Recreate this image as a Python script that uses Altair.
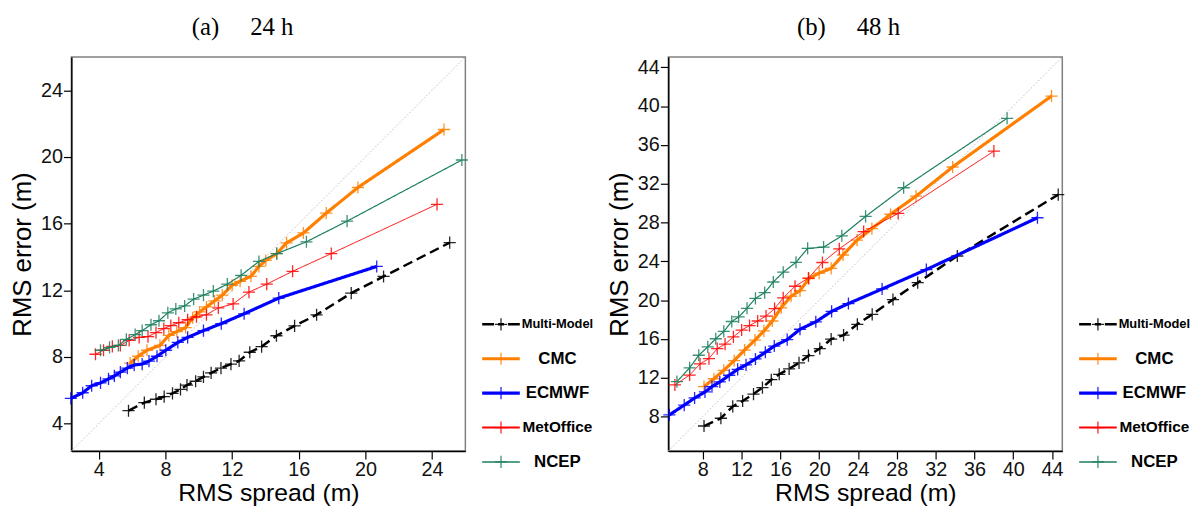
import altair as alt
import pandas as pd

MODELS = ["Multi-Model", "CMC", "ECMWF", "MetOffice", "NCEP"]
COLORS = ["#000000", "#FF8000", "#0000FF", "#FF0000", "#1B7F5F"]
LINE_W = [2.5, 3.2, 3.2, 1.0, 1.2]
LEG_W = [2.6, 3.2, 3.2, 2.2, 1.6]
DASHES = [[10, 5], [1, 0], [1, 0], [1, 0], [1, 0]]
LEG_DASHES = [[12, 4, 6, 4], [1, 0], [1, 0], [1, 0], [1, 0]]
LEG_FONT = [13, 17, 17, 15.5, 17]

# ---- panel (a) 24 h ----
a_mm_x = [5.78, 6.73, 7.43, 7.92, 8.42, 8.90, 9.29, 9.81, 10.28, 10.74, 11.33, 11.93, 12.42, 13.06, 13.77, 14.66, 15.75, 17.07, 19.15, 21.09, 25.06]
a_mm_y = [4.77, 5.26, 5.46, 5.62, 5.81, 6.05, 6.31, 6.54, 6.80, 7.04, 7.33, 7.57, 7.76, 8.28, 8.62, 9.27, 9.86, 10.53, 11.83, 12.83, 14.86]
a_cmc_x = [5.88, 6.36, 6.89, 7.67, 8.20, 8.68, 9.21, 9.63, 10.05, 10.46, 10.94, 11.41, 12.00, 12.48, 13.13, 13.61, 14.02, 14.68, 15.27, 16.28, 17.65, 19.55, 24.72]
a_cmc_y = [7.63, 8.04, 8.40, 8.69, 9.29, 9.52, 9.76, 10.35, 10.70, 11.00, 11.36, 11.71, 12.30, 12.54, 12.84, 13.43, 13.79, 14.20, 14.85, 15.44, 16.63, 18.17, 21.65]
a_ec_x = [2.32, 3.03, 3.57, 4.10, 4.58, 4.93, 5.29, 5.71, 6.12, 6.60, 7.01, 7.49, 8.02, 8.74, 9.33, 10.28, 11.35, 12.72, 14.80, 20.68]
a_ec_y = [5.51, 5.85, 6.27, 6.44, 6.68, 6.86, 7.09, 7.33, 7.51, 7.57, 7.75, 8.04, 8.40, 8.87, 9.17, 9.58, 10.00, 10.59, 11.53, 13.43]
a_met_x = [3.80, 4.28, 4.81, 5.29, 5.82, 6.42, 6.95, 7.43, 7.90, 8.32, 8.80, 9.33, 9.86, 10.46, 11.17, 12.06, 13.01, 14.08, 15.63, 17.95, 24.30]
a_met_y = [8.16, 8.40, 8.63, 8.69, 8.99, 9.17, 9.22, 9.46, 9.70, 9.88, 10.05, 10.23, 10.41, 10.53, 10.94, 11.18, 11.89, 12.37, 13.14, 14.20, 17.16]
a_ncep_x = [4.10, 4.64, 5.17, 5.65, 6.18, 6.60, 7.13, 7.61, 8.14, 8.62, 9.15, 9.69, 10.28, 10.87, 11.71, 12.54, 13.61, 14.68, 16.46, 18.90, 25.79]
a_ncep_y = [8.40, 8.57, 8.69, 9.05, 9.34, 9.58, 9.93, 10.17, 10.65, 10.88, 11.06, 11.47, 11.71, 11.95, 12.37, 12.90, 13.73, 14.20, 14.91, 16.15, 19.82]

# ---- panel (b) 48 h ----
b_mm_x = [8.13, 9.87, 11.09, 12.11, 13.23, 14.15, 15.06, 15.88, 16.90, 17.92, 18.89, 20.06, 21.23, 22.51, 23.93, 25.46, 27.60, 30.15, 34.23, 44.63]
b_mm_y = [7.03, 7.83, 9.05, 9.61, 10.32, 10.99, 11.80, 12.36, 12.92, 13.54, 14.28, 15.01, 15.98, 16.39, 17.51, 18.53, 20.06, 21.80, 24.55, 30.87]
b_cmc_x = [8.13, 9.15, 10.17, 11.24, 12.31, 13.38, 14.30, 15.17, 16.08, 17.10, 18.02, 18.94, 19.99, 21.23, 22.45, 23.90, 25.43, 27.35, 29.98, 33.75, 43.94]
b_cmc_y = [11.09, 11.90, 12.77, 13.77, 14.86, 15.88, 16.83, 17.85, 19.21, 20.40, 20.98, 22.23, 22.78, 23.27, 24.65, 26.18, 27.37, 28.85, 30.72, 33.72, 41.03]
b_ec_x = [4.56, 6.09, 7.16, 8.23, 8.95, 9.76, 10.73, 11.60, 12.46, 13.43, 14.45, 15.37, 16.70, 18.02, 19.65, 21.28, 23.01, 26.48, 31.04, 42.49]
b_ec_y = [8.18, 9.18, 9.92, 10.55, 11.09, 11.57, 12.26, 12.87, 13.33, 13.94, 14.63, 15.27, 15.93, 17.00, 17.77, 18.84, 19.65, 21.15, 23.15, 28.49]
b_met_x = [5.13, 6.65, 7.72, 8.64, 9.49, 10.30, 11.16, 12.01, 12.82, 13.66, 14.52, 15.40, 16.29, 17.51, 18.89, 20.33, 22.07, 24.58, 28.14, 38.00]
b_met_y = [11.26, 12.28, 13.43, 13.98, 15.00, 15.47, 16.21, 16.92, 17.37, 17.85, 18.36, 19.12, 20.23, 21.43, 22.27, 23.88, 25.29, 27.07, 28.93, 35.35]
b_ncep_x = [5.34, 6.65, 7.59, 8.52, 9.34, 10.17, 10.99, 11.70, 12.56, 13.43, 14.38, 15.27, 16.29, 17.61, 18.81, 20.45, 22.33, 24.78, 28.70, 39.36]
b_ncep_y = [11.60, 13.03, 14.32, 15.19, 16.02, 16.78, 17.80, 18.27, 19.16, 20.18, 20.77, 21.87, 22.88, 23.90, 25.33, 25.46, 26.63, 28.63, 31.58, 38.74]

A_DOMAIN = [2.35, 26.0]
A_TICKS = [4, 8, 12, 16, 20, 24]
B_DOMAIN = [4.45, 45.05]
B_TICKS = [8, 12, 16, 20, 24, 28, 32, 36, 40, 44]

PLUS = "M-1,0L1,0M0,-1L0,1"
FONT = "Liberation Sans"


def long_table(series):
    rows = []
    for model, xs, ys in series:
        for i, (x, y) in enumerate(zip(xs, ys)):
            rows.append({"model": model, "idx": i, "spread": x, "error": y})
    return pd.DataFrame(rows)


def panel(df, domain, ticks, title, dx):
    xs = alt.X("spread:Q", scale=alt.Scale(domain=domain, nice=False, zero=False),
               axis=alt.Axis(values=ticks, title="RMS spread (m)", titlePadding=1, titleFontSize=25))
    ys = alt.Y("error:Q", scale=alt.Scale(domain=domain, nice=False, zero=False),
               axis=alt.Axis(values=ticks, title="RMS error (m)", titlePadding=5))
    diag = alt.Chart(pd.DataFrame({"spread": domain, "error": domain})).mark_line(
        color="#BBBBBB", strokeWidth=1, strokeDash=[1.5, 2]
    ).encode(x=xs, y=ys)
    layers = [diag]
    for m, c, w, d in zip(MODELS, COLORS, LINE_W, DASHES):
        base = alt.Chart(df).transform_filter(alt.datum.model == m)
        layers.append(base.mark_line(color=c, strokeWidth=w, strokeDash=d).encode(x=xs, y=ys, order="idx:Q"))
        layers.append(base.mark_point(shape=PLUS, size=150, filled=False, strokeWidth=1.3,
                                      opacity=0.85, color=c).encode(x=xs, y=ys))
    return alt.layer(*layers).properties(
        width=398, height=398,
        title=alt.TitleParams(title, font="Liberation Serif", fontSize=25, fontWeight="normal",
                              baseline="alphabetic", offset=-5, dx=dx, color="black"),
        view=alt.ViewBackground(stroke="#808080", strokeWidth=1.5),
    )


def legend(width):
    ldf = pd.DataFrame({"model": MODELS})
    yy = alt.Y("model:N", scale=alt.Scale(type="point", domain=MODELS, range=[270, 409], padding=0), axis=None)
    layers = []
    for m, c, w, d, fs in zip(MODELS, COLORS, LEG_W, LEG_DASHES, LEG_FONT):
        base = alt.Chart(ldf).transform_filter(alt.datum.model == m)
        layers.append(base.mark_rule(color=c, strokeWidth=w, strokeDash=d).encode(
            y=yy, x=alt.value(17), x2=alt.value(55)))
        layers.append(base.mark_point(shape=PLUS, size=150, filled=False, strokeWidth=1.3,
                                      opacity=0.85, color=c).encode(y=yy, x=alt.value(36)))
        layers.append(base.mark_text(font=FONT, fontWeight="bold", fontSize=fs, align="center",
                                     baseline="middle", color="black").encode(
            y=yy, x=alt.value(93), text="model:N"))
    return alt.layer(*layers).properties(
        width=width, height=398, view=alt.ViewBackground(stroke="transparent")
    )


df_a = long_table([
    ("Multi-Model", a_mm_x, a_mm_y), ("CMC", a_cmc_x, a_cmc_y), ("ECMWF", a_ec_x, a_ec_y),
    ("MetOffice", a_met_x, a_met_y), ("NCEP", a_ncep_x, a_ncep_y),
])
df_b = long_table([
    ("Multi-Model", b_mm_x, b_mm_y), ("CMC", b_cmc_x, b_cmc_y), ("ECMWF", b_ec_x, b_ec_y),
    ("MetOffice", b_met_x, b_met_y), ("NCEP", b_ncep_x, b_ncep_y),
])

NB = "\u00a0"
pa = panel(df_a, A_DOMAIN, A_TICKS, "(a)" + NB * 5 + "24 h", -26)
pb = panel(df_b, B_DOMAIN, B_TICKS, "(b)" + NB * 5 + "48 h", -17)

chart = alt.hconcat(pa, legend(205), pb, legend(122), spacing=0, bounds="flush").resolve_scale(
    x="independent", y="independent"
).properties(
    padding={"left": 1, "top": 4, "right": 0, "bottom": 0}
).configure_axis(
    domainColor="black", domainWidth=1.5, tickColor="black", tickSize=8, tickWidth=1.2,
    labelFont=FONT, labelFontSize=20, labelColor="#111111", labelPadding=1,
    titleFont=FONT, titleFontSize=26, titleFontWeight="normal", titleColor="black",
    grid=False,
)

chart.save("out.html", embed_options={"renderer": "svg", "actions": False})
